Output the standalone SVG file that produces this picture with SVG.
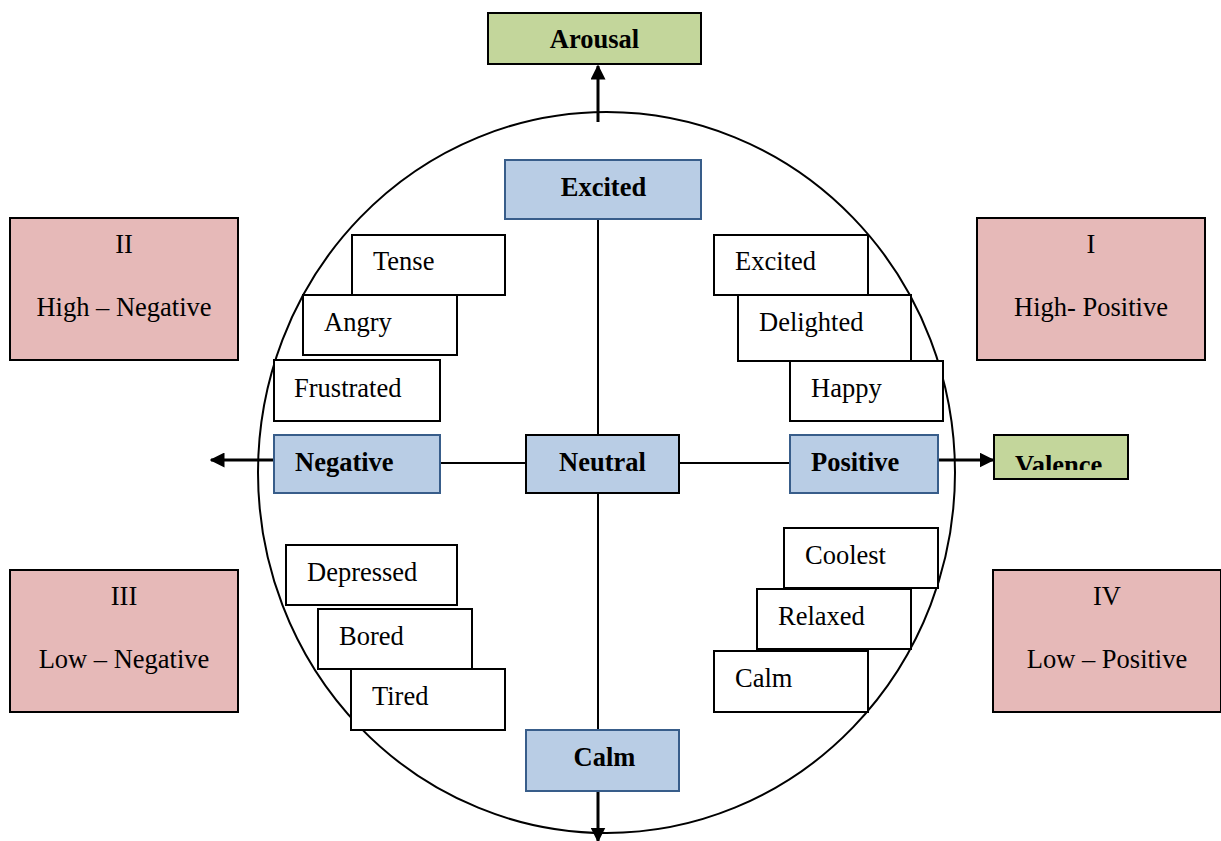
<svg xmlns="http://www.w3.org/2000/svg" width="1221" height="841" viewBox="0 0 1221 841">
<style>
text{font-family:"Liberation Serif","Times New Roman",serif;font-size:26.5px;fill:#000}
.b{font-weight:bold}
.w{fill:#fff;stroke:#000;stroke-width:2}
.blue{fill:#b9cde5;stroke:#385d8a;stroke-width:2}
.blk{fill:#b9cde5;stroke:#000;stroke-width:2}
.green{fill:#c3d69b;stroke:#000;stroke-width:2}
.pink{fill:#e6b9b8;stroke:#000;stroke-width:2}
.ln{stroke:#000;stroke-width:2;fill:none}
.ar{stroke:#000;stroke-width:3;fill:none}
</style>
<defs>
<marker id="ah" viewBox="0 0 10 10" refX="9" refY="5" markerWidth="5" markerHeight="5" markerUnits="strokeWidth" orient="auto">
<path d="M0,0 L10,5 L0,10 z" fill="#000"/>
</marker>
<clipPath id="vclip"><rect x="994" y="436" width="133" height="34"/></clipPath>
</defs>
<rect width="1221" height="841" fill="#fff"/>
<ellipse cx="606.5" cy="472.5" rx="348.5" ry="360.5" class="ln"/>
<g id="connectors">
<line x1="598" y1="219" x2="598" y2="435" class="ln"/>
<line x1="598" y1="493" x2="598" y2="730" class="ln"/>
<line x1="440" y1="463" x2="526" y2="463" class="ln"/>
<line x1="679" y1="463" x2="790" y2="463" class="ln"/>
<line x1="598" y1="122" x2="598" y2="66" class="ar" marker-end="url(#ah)"/>
<line x1="274" y1="460" x2="211" y2="460" class="ar" marker-end="url(#ah)"/>
<line x1="938" y1="460" x2="993" y2="460" class="ar" marker-end="url(#ah)"/>
<line x1="598" y1="791" x2="598" y2="841" class="ar" marker-end="url(#ah)"/>
</g>
<g id="arousal"><rect x="488" y="13" width="213" height="51" class="green"/><text x="594.5" y="48" text-anchor="middle" class="b">Arousal</text></g>
<g id="valence"><rect x="994" y="435" width="134" height="44" class="green"/><text x="1015" y="474" class="b" clip-path="url(#vclip)">Valence</text></g>
<g id="excited-axis"><rect x="505" y="160" width="196" height="59" class="blue"/><text x="603.5" y="196" text-anchor="middle" class="b">Excited</text></g>
<g id="negative"><rect x="274" y="435" width="166" height="58" class="blue"/><text x="295" y="471" class="b">Negative</text></g>
<g id="neutral"><rect x="526" y="435" width="153" height="58" class="blk"/><text x="602.5" y="471" text-anchor="middle" class="b">Neutral</text></g>
<g id="positive"><rect x="790" y="435" width="148" height="58" class="blue"/><text x="811" y="471" class="b">Positive</text></g>
<g id="calm-axis"><rect x="526" y="730" width="153" height="61" class="blue"/><text x="604.5" y="766" text-anchor="middle" class="b">Calm</text></g>
<g id="tense"><rect x="352" y="235" width="153" height="60" class="w"/><text x="373" y="270">Tense</text></g>
<g id="angry"><rect x="303" y="295" width="154" height="60" class="w"/><text x="324" y="331">Angry</text></g>
<g id="frustrated"><rect x="274" y="360" width="166" height="61" class="w"/><text x="294" y="397">Frustrated</text></g>
<g id="excited"><rect x="714" y="235" width="154" height="60" class="w"/><text x="735" y="270">Excited</text></g>
<g id="delighted"><rect x="738" y="295" width="173" height="66" class="w"/><text x="759" y="331">Delighted</text></g>
<g id="happy"><rect x="790" y="361" width="153" height="60" class="w"/><text x="811" y="397">Happy</text></g>
<g id="depressed"><rect x="286" y="545" width="171" height="60" class="w"/><text x="307" y="581">Depressed</text></g>
<g id="bored"><rect x="318" y="609" width="154" height="60" class="w"/><text x="339" y="645">Bored</text></g>
<g id="tired"><rect x="351" y="669" width="154" height="61" class="w"/><text x="372" y="705">Tired</text></g>
<g id="coolest"><rect x="784" y="528" width="154" height="60" class="w"/><text x="805" y="564">Coolest</text></g>
<g id="relaxed"><rect x="757" y="589" width="154" height="60" class="w"/><text x="778" y="625">Relaxed</text></g>
<g id="calm"><rect x="714" y="651" width="154" height="61" class="w"/><text x="735" y="687">Calm</text></g>
<g id="q2"><rect x="10" y="218" width="228" height="142" class="pink"/><text x="124" y="253" text-anchor="middle">II</text><text x="124" y="316" text-anchor="middle">High – Negative</text></g>
<g id="q1"><rect x="977" y="218" width="228" height="142" class="pink"/><text x="1091" y="253" text-anchor="middle">I</text><text x="1091" y="316" text-anchor="middle">High- Positive</text></g>
<g id="q3"><rect x="10" y="570" width="228" height="142" class="pink"/><text x="124" y="605" text-anchor="middle">III</text><text x="124" y="668" text-anchor="middle">Low – Negative</text></g>
<g id="q4"><rect x="993" y="570" width="228" height="142" class="pink"/><text x="1107" y="605" text-anchor="middle">IV</text><text x="1107" y="668" text-anchor="middle">Low – Positive</text></g>
</svg>
